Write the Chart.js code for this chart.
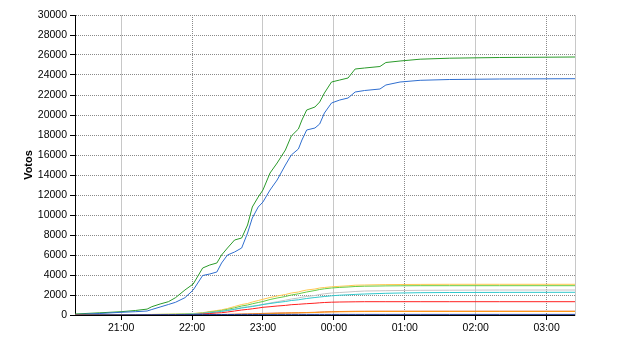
<!DOCTYPE html>
<html>
<head>
<meta charset="utf-8">
<script src="https://cdn.jsdelivr.net/npm/chart.js@4"></script>
<style>
  html, body { margin: 0; padding: 0; background: #fff; }
  #wrap { width: 640px; height: 350px; position: relative; }
</style>
</head>
<body>
<div id="wrap"><canvas id="chart"></canvas></div>
<script>
'use strict';

// Sample times (HH:MM, after midnight is next day)
const times = [
    '20:21', '20:42', '21:00', '21:12', '21:22', '21:26', '21:33', '21:40', '21:46', '21:54',
    '22:01', '22:09', '22:15', '22:21', '22:25', '22:30', '22:36', '22:42', '22:47', '22:51',
    '22:56', '23:00', '23:06', '23:12', '23:19', '23:24', '23:30', '23:33', '23:37', '23:44',
    '23:48', '23:52', '23:58', '00:05', '00:12', '00:18', '00:26', '00:39', '00:44', '00:56',
    '01:13', '01:38', '02:20', '03:24'
];

const greenVotes = [
    100, 220, 330, 450, 590, 830, 1100, 1330, 1730, 2500,
    3100, 4700, 5000, 5200, 6000, 6700, 7500, 7700, 9000, 10800,
    11800, 12500, 14200, 15200, 16500, 17900, 18600, 19500, 20500, 20800,
    21300, 22200, 23300, 23500, 23700, 24600, 24700, 24850, 25250, 25400,
    25580, 25680, 25750, 25800
];
const blueVotes = [
    50, 150, 270, 330, 400, 550, 800, 1050, 1270, 1730,
    2500, 3950, 4100, 4300, 5200, 6000, 6300, 6700, 8200, 9700,
    10800, 11300, 12500, 13500, 15000, 16000, 16600, 17500, 18500, 18700,
    19100, 20200, 21200, 21500, 21700, 22300, 22450, 22600, 23000, 23300,
    23470, 23550, 23600, 23630
];
const yellowVotes = [
    0, 10, 30, 40, 50, 60, 70, 80, 90, 110,
    150, 230, 350, 450, 520, 650, 850, 1050, 1150, 1300,
    1450, 1570, 1750, 1900, 2050, 2200, 2300, 2400, 2500, 2600,
    2700, 2750, 2820, 2870, 2920, 2980, 3000, 3030, 3040, 3050,
    3060, 3070, 3070, 3070
];
const lightGreenVotes = [
    0, 10, 20, 30, 40, 50, 60, 70, 80, 100,
    130, 200, 300, 380, 450, 560, 720, 900, 1000, 1120,
    1250, 1350, 1550, 1700, 1850, 2000, 2120, 2200, 2300, 2450,
    2550, 2620, 2700, 2760, 2800, 2850, 2880, 2900, 2910, 2920,
    2930, 2930, 2930, 2930
];
const grayVotes = [
    0, 5, 10, 15, 20, 25, 30, 40, 50, 70,
    100, 170, 250, 320, 380, 470, 600, 750, 830, 900,
    980, 1050, 1200, 1330, 1480, 1600, 1700, 1780, 1850, 1950,
    2050, 2120, 2200, 2250, 2300, 2350, 2400, 2420, 2430, 2450,
    2470, 2480, 2500, 2500
];
const cyanVotes = [
    0, 5, 10, 15, 20, 25, 30, 40, 50, 60,
    80, 150, 220, 300, 360, 450, 560, 700, 780, 850,
    950, 1050, 1150, 1250, 1350, 1450, 1520, 1580, 1650, 1750,
    1800, 1850, 1920, 1980, 2020, 2060, 2100, 2150, 2170, 2200,
    2230, 2250, 2260, 2270
];
const redVotes = [
    0, 0, 10, 10, 10, 15, 15, 20, 25, 35,
    50, 100, 150, 200, 230, 300, 400, 500, 560, 620,
    700, 770, 830, 900, 960, 1030, 1070, 1100, 1130, 1180,
    1220, 1250, 1280, 1300, 1310, 1320, 1330, 1330, 1330, 1330,
    1330, 1330, 1330, 1330
];
const darkOrangeVotes = [
    0, 0, 0, 5, 5, 5, 10, 10, 10, 15,
    20, 30, 40, 50, 55, 65, 80, 100, 110, 120,
    140, 160, 180, 200, 210, 220, 230, 240, 250, 270,
    290, 310, 330, 350, 360, 370, 375, 380, 380, 380,
    380, 380, 380, 380
];
const orangeVotes = [
    0, 0, 0, 0, 0, 0, 5, 5, 5, 10,
    15, 20, 25, 30, 35, 45, 55, 70, 80, 90,
    100, 120, 140, 160, 180, 200, 210, 220, 230, 250,
    270, 290, 310, 320, 330, 340, 345, 350, 350, 350,
    350, 350, 350, 350
];
const navyVotes = [
    0, 10, 20, 25, 30, 30, 35, 35, 40, 40,
    40, 45, 45, 50, 50, 50, 50, 55, 55, 55,
    55, 60, 60, 60, 60, 60, 60, 60, 60, 60,
    60, 60, 60, 60, 60, 60, 60, 60, 60, 60,
    60, 60, 60, 60
];

const hourTicks = [21, 22, 23, 24, 25, 26, 27];
const dottedHours = [22, 25, 27];
const voteTicks = [0, 2000, 4000, 6000, 8000, 10000, 12000, 14000, 16000, 18000, 20000, 22000, 24000, 26000, 28000, 30000];

// "HH:MM" -> decimal hours, times after midnight run on past 24
function toHours(t) {
    const [h, m] = t.split(':').map(Number);
    return (h < 12 ? h + 24 : h) + m / 60;
}
const hours = times.map(toHours);
const pts = vals => vals.map((v, i) => ({ x: hours[i], y: v }));

const line = (data, color) => ({
    data: pts(data), borderColor: color, backgroundColor: color,
    borderWidth: 1, pointRadius: 0, tension: 0, fill: false,
});

const FONT = { family: "'Liberation Sans', Arial, sans-serif", size: 10.5 };

new Chart(document.getElementById('chart'), {
    type: 'line',
    data: {
        datasets: [
            line(navyVotes, '#1a3a99'),
            line(orangeVotes, '#ff9a1a'),
            line(darkOrangeVotes, '#e0662a'),
            line(redVotes, '#ff2020'),
            line(cyanVotes, '#30c8cc'),
            line(grayVotes, '#c4c4c4'),
            line(lightGreenVotes, '#66cc44'),
            line(yellowVotes, '#ffc850'),
            line(blueVotes, '#2f6ecf'),
            line(greenVotes, '#2a9a2a'),
        ],
    },
    options: {
        responsive: true, maintainAspectRatio: false,
        animation: false,
        layout: { padding: { left: 0, right: 65, top: 15, bottom: 0 } },
        plugins: { legend: { display: false }, tooltip: { enabled: false } },
        scales: {
            x: {
                type: 'linear',
                min: hours[0], max: hours[hours.length - 1],
                afterBuildTicks: s => { s.ticks = hourTicks.map(v => ({ value: v })); },
                afterFit: s => { s.height = 35; },
                ticks: {
                    color: '#000', font: FONT, padding: 2, maxRotation: 0, autoSkip: false,
                    callback: v => String(v % 24).padStart(2, '0') + ':00',
                },
                grid: {
                    color: c => (c.tick && dottedHours.includes(c.tick.value)) ? '#8a8a8a' : '#c8c8c8',
                    tickColor: '#000', tickLength: 5, lineWidth: 1,
                },
                border: {
                    display: true, color: '#000', width: 1,
                    dash: c => (c.tick && dottedHours.includes(c.tick.value)) ? [1, 1] : [],
                },
            },
            y: {
                min: 0, max: 30000,
                afterBuildTicks: s => { s.ticks = voteTicks.map(v => ({ value: v })); },
                afterFit: s => { s.width = 75; },
                ticks: { color: '#000', font: FONT, padding: 3, autoSkip: false, callback: v => String(v) },
                grid: { color: '#8a8a8a', tickColor: '#000', tickLength: 5, lineWidth: 1 },
                border: { display: true, color: '#000', width: 1, dash: [1, 1] },
                title: {
                    display: true, text: 'Votos', color: '#000',
                    font: { family: FONT.family, size: 11, weight: 'bold' },
                    padding: { top: 22, bottom: 0 },
                },
            },
            y2: {
                display: true, position: 'right', min: 0, max: 30000,
                afterFit: s => { s.width = 0; },
                ticks: { display: false },
                grid: { display: false, drawTicks: false },
                border: { display: true, color: '#c8c8c8', width: 1 },
            },
        },
    },
});
</script>
</body>
</html>
